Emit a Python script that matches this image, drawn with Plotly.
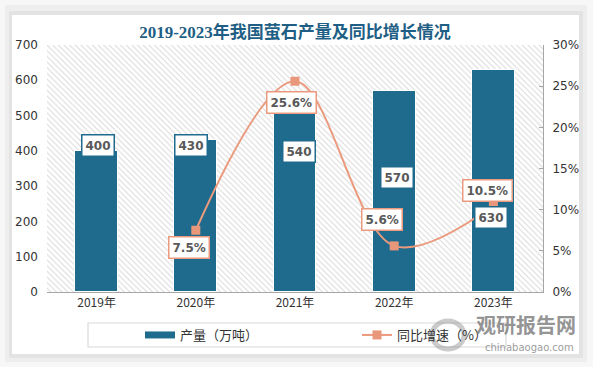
import plotly.graph_objects as go

years = ["2019年", "2020年", "2021年", "2022年", "2023年"]
output = [400, 430, 540, 570, 630]
growth_years = ["2020年", "2021年", "2022年", "2023年"]
growth = [7.5, 25.6, 5.6, 10.5]
title_text = "2019-2023年我国萤石产量及同比增长情况"
bar_name = "产量（万吨）"
line_name = "同比增速（%）"

# label offsets in pixels (xshift, yshift)
bar_label_shift = [(1, 5), (-5, -5), (4, -50), (3, -87), (-2, -148)]
line_label_shift = [(-7, -17), (-4, -21), (-12, 26), (-6, 15)]

W, H = 593, 367
L, R, T, B = 47, 543, 45, 292


def px(x):
    return (x - L) / (R - L)


def py(y):
    return (B - y) / (B - T)


BAR_C = "#1f6b8e"
LINE_C = "#eb9a7d"
FONT = "Noto Sans CJK SC"

xi = list(range(len(years)))
gx = [years.index(g) for g in growth_years]

fig = go.Figure()
# hatched plot-area background
fig.add_trace(go.Bar(
    x=[(len(years) - 1) / 2], y=[700], width=[len(years)], base=[0],
    marker=dict(color="white", line=dict(width=0),
                pattern=dict(shape="\\", size=4, fgcolor="#d9d9d9", bgcolor="white",
                             solidity=0.25, fillmode="replace")),
    showlegend=False, hoverinfo="skip"))
fig.add_trace(go.Bar(
    x=xi, y=output, width=0.43, name=bar_name, showlegend=False,
    marker=dict(color=BAR_C, line=dict(color="white", width=1))))
# legend proxy for the bar series (wide rectangle symbol)
fig.add_trace(go.Scatter(
    x=[None], y=[None], mode="lines", name=bar_name,
    line=dict(color=BAR_C, width=7)))
fig.add_trace(go.Scatter(
    x=gx, y=growth, yaxis="y2", name=line_name, mode="lines+markers",
    line=dict(color=LINE_C, width=2, shape="spline", smoothing=1.0),
    marker=dict(symbol="square", size=9, color="#e8977b")))

ann = []
for i, v in enumerate(output):
    dx, dy = bar_label_shift[i]
    ann.append(dict(x=xi[i], y=v, xref="x", yref="y", text=str(v), showarrow=False,
                    xshift=dx, yshift=dy, bgcolor="white", bordercolor=BAR_C, borderwidth=1.5,
                    borderpad=3, font=dict(family="DejaVu Sans", size=12, color="#595959", weight="bold")))
for i, v in enumerate(growth):
    dx, dy = line_label_shift[i]
    ann.append(dict(x=gx[i], y=v, xref="x", yref="y2", text=f"{v}%", showarrow=False,
                    xshift=dx, yshift=dy, bgcolor="white", bordercolor=LINE_C, borderwidth=1.5,
                    borderpad=3, font=dict(family="DejaVu Sans", size=12, color="#595959", weight="bold")))
# watermark
ann.append(dict(x=px(578), y=py(324), xref="paper", yref="paper", xanchor="right", yanchor="middle",
                text="观研报告网", showarrow=False,
                font=dict(family=FONT, size=20, color="rgba(120,120,120,0.8)", weight="bold")))
ann.append(dict(x=px(576), y=py(347), xref="paper", yref="paper", xanchor="right", yanchor="middle",
                text="chinabaogao.com", showarrow=False,
                font=dict(family="DejaVu Sans", size=10, color="rgba(120,120,120,0.75)")))

shapes = [
    dict(type="rect", xref="paper", yref="paper", x0=px(0), x1=px(593), y0=py(0), y1=py(367),
         fillcolor="#f7f7f7", line=dict(width=0), layer="below"),
    dict(type="rect", xref="paper", yref="paper", x0=px(5), x1=px(587), y0=py(5), y1=py(362),
         fillcolor="#eeeeee", line=dict(width=0), layer="below"),
    dict(type="rect", xref="paper", yref="paper", x0=px(9), x1=px(583), y0=py(11), y1=py(358),
         fillcolor="#e3e3e3", line=dict(width=0), layer="below"),
    dict(type="rect", xref="paper", yref="paper", x0=px(12), x1=px(579), y0=py(15), y1=py(354),
         fillcolor="white", line=dict(width=0), layer="below"),
    dict(type="rect", xref="paper", yref="paper", x0=px(88), x1=px(506), y0=py(323), y1=py(347),
         fillcolor="rgba(0,0,0,0)", line=dict(color="#d9d9d9", width=1.2), layer="below"),
    # watermark logo swirl
    dict(type="circle", xref="paper", yref="paper", x0=px(432), x1=px(464), y0=py(349), y1=py(321),
         fillcolor="rgba(0,0,0,0)", line=dict(color="rgba(140,140,140,0.45)", width=5)),
]

fig.update_layout(
    width=W, height=H,
    margin=dict(l=L, r=W - R, t=T, b=H - B),
    paper_bgcolor="white", plot_bgcolor="rgba(0,0,0,0)",
    barmode="overlay", bargap=0,
    font=dict(family="DejaVu Sans", size=11, color="#333333"),
    title=dict(text=title_text, x=0.5, xanchor="center", y=1 - 32 / H, yanchor="middle",
               yref="container", xref="paper",
               font=dict(family="Liberation Serif, Noto Sans CJK SC", size=17, color="#1f5f85",
                         weight="bold")),
    xaxis=dict(range=[-0.5, len(years) - 0.5], tickvals=xi, ticktext=years,
               showline=True, linecolor="#a6a6a6", linewidth=1, showgrid=False, zeroline=False,
               ticks="", tickfont=dict(family=FONT, size=12, color="#333333")),
    yaxis=dict(range=[0, 700], dtick=100, showgrid=False, zeroline=False, showline=False,
               ticks="", ticklabelstandoff=8, tickfont=dict(size=12, color="#333333")),
    yaxis2=dict(range=[0, 30], dtick=5, ticksuffix="%", overlaying="y", side="right",
                showgrid=False, zeroline=False, showline=True, linecolor="#a6a6a6", linewidth=1,
                ticks="inside", ticklen=4, tickcolor="#a6a6a6", ticklabelstandoff=6,
                tickfont=dict(size=12, color="#333333")),
    legend=dict(orientation="h", x=px(140), xanchor="left", y=py(335), yanchor="middle",
                bgcolor="rgba(0,0,0,0)", font=dict(family=FONT, size=13, color="#333333"),
                entrywidth=172, itemwidth=30, tracegroupgap=0),
    annotations=ann, shapes=shapes,
)

fig.write_html("out.html", config={"displayModeBar": False},
               post_script="document.body.style.margin='0';")
